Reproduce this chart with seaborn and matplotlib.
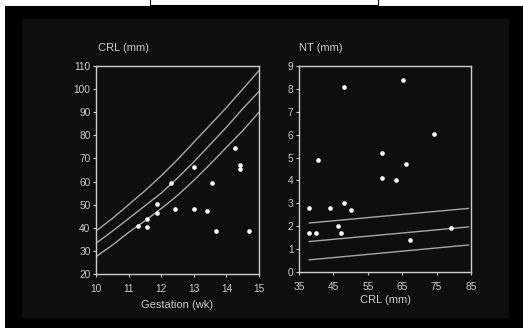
import matplotlib
matplotlib.use("Agg")
import matplotlib.pyplot as plt
import matplotlib.patches as patches
import pandas as pd
import seaborn as sns

# Left panel: CRL against gestation
gest_weeks = [11.28, 11.55, 11.55, 11.86, 11.86, 12.29, 12.42, 13.0, 13.0,
              13.42, 13.56, 13.69, 14.27, 14.42, 14.42, 14.68]
crl_left = [40.8, 40.2, 44.0, 50.3, 46.4, 59.3, 48.3, 66.5, 48.3,
            47.3, 59.3, 38.4, 74.5, 67.3, 65.3, 38.4]

# reference centiles
curve_weeks = [10, 10.5, 11, 11.5, 12, 12.5, 13, 13.5, 14, 14.5, 15]
crl_upper = [38.6, 44.0, 50.0, 56.0, 62.5, 69.5, 77.0, 84.5, 92.0, 100.0, 108.0]
crl_median = [33.3, 38.5, 44.0, 49.5, 55.0, 61.5, 68.5, 76.0, 83.5, 91.5, 99.0]
crl_lower = [27.5, 32.5, 38.0, 43.0, 48.3, 54.0, 60.5, 67.5, 74.8, 82.0, 90.0]

# Right panel: NT against CRL
crl_right = [37.9, 37.9, 40.0, 40.4, 43.9, 46.2, 47.1, 48.0, 48.0, 50.1,
             59.1, 59.1, 63.1, 65.1, 66.1, 67.2, 74.2, 79.2]
nt_mm = [2.79, 1.70, 1.70, 4.90, 2.79, 2.00, 1.70, 8.07, 3.00, 2.69,
         5.21, 4.10, 4.00, 8.37, 4.73, 1.41, 6.02, 1.92]

nt_line_crl = [37.9, 84.3]
nt_upper = [2.14, 2.78]
nt_median = [1.33, 1.97]
nt_lower = [0.53, 1.18]

W, H = 523, 329
fg = "#cccccc"
line_col = "#a8a8a8"

sns.set_style("dark")
plt.rcParams["font.family"] = ["Liberation Sans", "DejaVu Sans"]

fig = plt.figure(figsize=(W / 100, H / 100), dpi=100, facecolor="white")


def box(x0, y0, x1, y1, **kw):
    # pixel box (top-left origin) -> figure rectangle, kept under the axes
    fig.patches.append(patches.Rectangle((x0 / W, 1 - y1 / H), (x1 - x0) / W, (y1 - y0) / H,
                                         transform=fig.transFigure, zorder=-10, **kw))


box(5, 6, 523, 328, facecolor="black", edgecolor="none")
box(22, 19, 509, 318, facecolor="#0e0e0e", edgecolor="none")
box(150, -2, 378, 5, facecolor="white", edgecolor="black", linewidth=0.8)

ax1 = fig.add_axes([96 / W, 1 - 274 / H, 163 / W, 208 / H])
ax2 = fig.add_axes([299 / W, 1 - 272 / H, 172 / W, 206 / H])

for ys in (crl_upper, crl_median, crl_lower):
    sns.lineplot(x=curve_weeks, y=ys, ax=ax1, color=line_col, linewidth=1.0, sort=False)
sns.scatterplot(x=gest_weeks, y=crl_left, ax=ax1, color="white", s=11, linewidth=0, zorder=3)

for ys in (nt_upper, nt_median, nt_lower):
    sns.lineplot(x=nt_line_crl, y=ys, ax=ax2, color=line_col, linewidth=1.0, sort=False)
sns.scatterplot(x=crl_right, y=nt_mm, ax=ax2, color="white", s=11, linewidth=0, zorder=3)

ax1.set_xlim(10, 15)
ax1.set_ylim(20, 110)
ax1.set_xticks(range(10, 16))
ax1.set_yticks(range(20, 111, 10))

ax2.set_xlim(35, 85)
ax2.set_ylim(0, 9)
ax2.set_xticks(range(35, 86, 10))
ax2.set_yticks(range(0, 10))

for ax in (ax1, ax2):
    ax.set_facecolor("#0e0e0e")
    ax.grid(False)
    for sp in ax.spines.values():
        sp.set_visible(True)
        sp.set_color(fg)
        sp.set_linewidth(1.0)
    ax.tick_params(axis="both", colors=fg, labelcolor=fg, labelsize=7.3,
                   direction="out", length=2.5, width=0.8)
    ax.tick_params(axis="x", bottom=True, pad=5)
    ax.tick_params(axis="y", left=True, pad=1.5)

ax1.set_xlabel("Gestation (wk)", color=fg, fontsize=8, labelpad=4)
ax2.set_xlabel("CRL (mm)", color=fg, fontsize=8, labelpad=2)
ax1.set_ylabel("")
ax2.set_ylabel("")

fig.text(98 / W, 1 - 48 / H, "CRL (mm)", color=fg, fontsize=8, va="center", ha="left")
fig.text(299 / W, 1 - 48 / H, "NT (mm)", color=fg, fontsize=8, va="center", ha="left")

fig.savefig("out.png", dpi=100, facecolor="white")
